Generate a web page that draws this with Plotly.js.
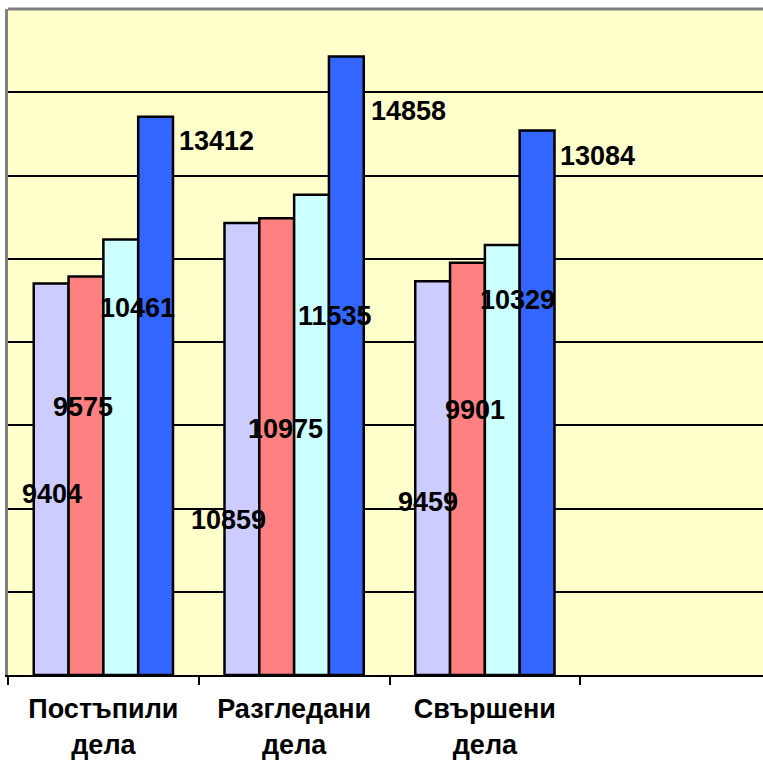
<!DOCTYPE html>
<html><head><meta charset="utf-8">
<script src="https://cdn.plot.ly/plotly-3.0.1.min.js"></script>
<style>html,body{margin:0;padding:0;overflow:hidden;background:#fff}</style>
</head><body>
<div id="chart" style="width:780px;height:760px"></div>
<script>
// Data
const categories = ["Постъпили<br>дела", "Разгледани<br>дела", "Свършени<br>дела"];
const series1 = [9404, 10859, 9459];
const series2 = [9575, 10975, 9901];
const series3 = [10461, 11535, 10329];
const series4 = [13412, 14858, 13084];
const seriesNames = ["Серия 1", "Серия 2", "Серия 3", "Серия 4"];
const colors = ["#CCCCFF", "#FF8080", "#CCFFFF", "#3366FF"];

// Label placement (text only): horizontal pixel shift from category centre, vertical in data units
const labelShift = [[-51, -20, 34, 113], [-66, -9, 41, 114], [-57, -10, 33, 113]];
const labelLevel = [[4340, 6430, 8810, 12840], [3720, 5900, 8620, 13540], [4150, 6360, 9000, 12480]];

const allSeries = [series1, series2, series3, series4];
const traces = allSeries.map((s, i) => ({
  type: "bar", x: categories, y: s, name: seriesNames[i],
  marker: {color: colors[i], line: {color: "#000", width: 2.5}},
  hoverinfo: "y"
}));

const annotations = [];
categories.forEach((c, ci) => {
  allSeries.forEach((s, si) => {
    annotations.push({
      x: c, y: labelLevel[ci][si], xref: "x", yref: "y",
      text: String(s[ci]), showarrow: false, xshift: labelShift[ci][si],
      font: {family: "Liberation Sans, Arial, sans-serif", size: 27, color: "#000", weight: "bold"},
      xanchor: "center", yanchor: "middle"
    });
  });
});

const layout = {
  width: 780, height: 760,
  margin: {l: 8, r: 9, t: 9, b: 85},
  paper_bgcolor: "#fff", plot_bgcolor: "#FFFFCC",
  barmode: "group", bargap: 0.27, bargroupgap: 0,
  showlegend: false,
  xaxis: {
    type: "category", range: [-0.5, 3.5],
    showline: true, linecolor: "#000", linewidth: 2,
    ticks: "outside", tickson: "boundaries", ticklen: 8, tickwidth: 2, tickcolor: "#000",
    ticklabelstandoff: 9,
    showgrid: false,
    tickfont: {family: "Liberation Sans, Arial, sans-serif", size: 27, color: "#000", weight: "bold"}
  },
  yaxis: {
    range: [0, 16000], dtick: 2000, showticklabels: false, ticks: "",
    showgrid: true, gridcolor: "#000", gridwidth: 2,
    showline: true, linecolor: "#808080", linewidth: 3, zeroline: false
  },
  shapes: [
    {type: "line", xref: "paper", yref: "paper", x0: 0, x1: 1, y0: 1, y1: 1,
     line: {color: "#808080", width: 3}}
  ],
  annotations: annotations
};

Plotly.newPlot("chart", traces, layout, {displayModeBar: false, staticPlot: true});
</script>
</body></html>
